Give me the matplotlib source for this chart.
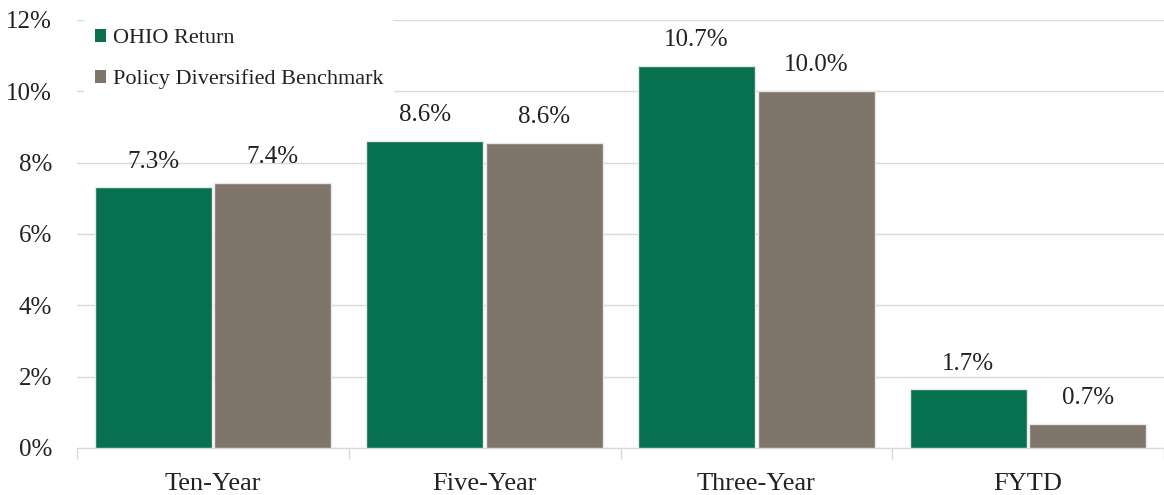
import numpy as np
import matplotlib
matplotlib.use('Agg')
import matplotlib.pyplot as plt
from matplotlib.patches import Patch

categories = ['Ten-Year', 'Five-Year', 'Three-Year', 'FYTD']
ohio = [7.32, 8.62, 10.72, 1.66]
bench = [7.44, 8.56, 10.02, 0.68]
series_names = ['OHIO Return', 'Policy Diversified Benchmark']
yticks = [0, 2, 4, 6, 8, 10, 12]

green = '#06704f'
gray = '#7f756b'
grid_c = '#d9d9d9'
txt = '#222222'

plt.rcParams['font.family'] = ['Liberation Serif', 'DejaVu Serif']

fig = plt.figure(figsize=(11.64, 4.95), dpi=100)
ax = fig.add_axes([77/1164, 47/495, 1 - 77/1164, (448-20)/495])

x = np.arange(len(categories))
w = 0.43
off = 0.22
b1 = ax.bar(x - off, ohio, w, color=green, edgecolor='#e8e8e8', linewidth=1, zorder=3)
b2 = ax.bar(x + off, bench, w, color=gray, edgecolor='#e8e8e8', linewidth=1, zorder=3)

for bars, vals in ((b1, ohio), (b2, bench)):
    for r, v in zip(bars, vals):
        ax.text(r.get_x() + r.get_width()/2, v + 0.4, '%.1f%%' % v,
                ha='center', va='bottom', fontsize=18, color=txt, zorder=4)

ax.set_xlim(-0.5, -0.5 + 1087/275.0)
ax.set_ylim(0, 12)
ax.set_yticks(yticks)
ax.set_yticklabels(['%d%%' % t for t in yticks], fontsize=18, color=txt)
ax.yaxis.grid(True, color=grid_c, linewidth=1, zorder=0)
ax.tick_params(axis='y', length=0, pad=18)

ax.set_xticks(x)
ax.set_xticklabels(categories, fontsize=19, color=txt)
ax.tick_params(axis='x', which='major', length=0, pad=18)
ax.set_xticks(np.arange(-0.5, 4, 1), minor=True)
ax.tick_params(axis='x', which='minor', length=8, color=grid_c, width=1)

for s in ['top', 'right', 'left']:
    ax.spines[s].set_visible(False)
ax.spines['bottom'].set_color(grid_c)

handles = [Patch(facecolor=green, edgecolor='none'), Patch(facecolor=gray, edgecolor='none')]
leg = ax.legend(handles, series_names, loc='upper left', bbox_to_anchor=(0.0, 1.02),
                fontsize=16, frameon=True, handlelength=0.5, handleheight=0.5,
                handletextpad=0.3, labelspacing=0.95, borderpad=0.5, borderaxespad=0.3)
leg.get_frame().set_facecolor('white')
leg.get_frame().set_edgecolor('none')
leg.get_frame().set_alpha(1)
for t in leg.get_texts():
    t.set_color(txt)

fig.savefig('out.png', dpi=100)
